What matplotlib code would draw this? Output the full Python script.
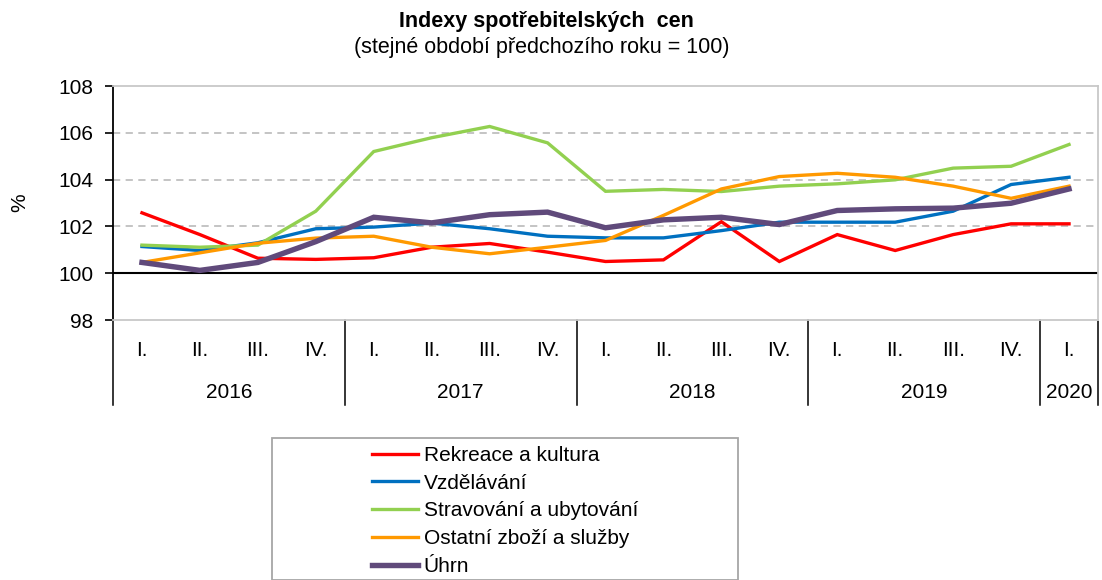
import matplotlib
matplotlib.use("Agg")
import matplotlib.pyplot as plt
import matplotlib.transforms as mtransforms
from matplotlib.patches import Rectangle

plt.rcParams['font.family'] = ['Liberation Sans', 'DejaVu Sans']

# data
quarters = ["I.", "II.", "III.", "IV.", "I.", "II.", "III.", "IV.", "I.", "II.", "III.", "IV.",
            "I.", "II.", "III.", "IV.", "I."]
years = ["2016", "2017", "2018", "2019", "2020"]
year_sizes = [4, 4, 4, 4, 1]

rekreace = [102.58, 101.65, 100.64, 100.59, 100.66, 101.11, 101.27, 100.9, 100.5, 100.57,
            102.2, 100.5, 101.65, 100.97, 101.65, 102.11, 102.11]
vzdelavani = [101.14, 100.97, 101.3, 101.9, 101.97, 102.14, 101.9, 101.58, 101.51, 101.51,
              101.82, 102.18, 102.18, 102.18, 102.65, 103.79, 104.1]
stravovani = [101.2, 101.11, 101.2, 102.65, 105.2, 105.79, 106.27, 105.57, 103.5, 103.58,
              103.49, 103.72, 103.82, 103.99, 104.49, 104.57, 105.5]
ostatni = [100.46, 100.87, 101.28, 101.5, 101.58, 101.11, 100.83, 101.11, 101.4, 102.47,
           103.6, 104.13, 104.27, 104.1, 103.72, 103.2, 103.72]
uhrn = [100.46, 100.12, 100.46, 101.35, 102.39, 102.15, 102.5, 102.61, 101.94, 102.28,
        102.39, 102.08, 102.68, 102.75, 102.78, 102.99, 103.6]

series = [
    ("Rekreace a kultura", rekreace, "#FF0000", 2.4),
    ("Vzdělávání", vzdelavani, "#0070C0", 2.4),
    ("Stravování a ubytování", stravovani, "#92D050", 2.4),
    ("Ostatní zboží a služby", ostatni, "#FF9900", 2.4),
    ("Úhrn", uhrn, "#604A7B", 3.9),
]

W, H = 1102, 580
fs = 15
fig = plt.figure(figsize=(W / 100, H / 100), dpi=100)
ax = fig.add_axes([113 / W, 1 - 320 / H, 985 / W, 234 / H])

x = list(range(len(quarters)))
for name, vals, col, lw in series:
    ax.plot(x, vals, color=col, lw=lw, label=name, solid_joinstyle='miter')

ax.set_xlim(-0.5, len(quarters) - 0.5)
ax.set_ylim(98, 108)
ax.set_yticks([98, 100, 102, 104, 106, 108])
ax.tick_params(axis='y', labelsize=fs, direction='out', length=6, width=1.2, pad=8)
ax.set_xticks([])
for v in [102, 104, 106]:
    ax.axhline(v, color='#BFBFBF', lw=1.3, ls=(0, (4, 3)), zorder=0)
ax.axhline(100, color='black', lw=1.5, zorder=1)

for s in ['top', 'right', 'bottom']:
    ax.spines[s].set_color('#C8C8C8')
    ax.spines[s].set_linewidth(1.3)
ax.spines['left'].set_linewidth(1.3)
ax.set_ylabel("%", fontsize=fs, labelpad=21)

# category axis below the plot
trans = mtransforms.blended_transform_factory(ax.transData, ax.transAxes)
low = -(405 - 320) / 234
for i, q in enumerate(quarters):
    ax.text(i, -(351 - 320) / 234, q, transform=trans, ha='center', va='center', fontsize=fs)
start = 0
bounds = [-0.5]
for yr, n in zip(years, year_sizes):
    ax.text(start + (n - 1) / 2, -(392 - 320) / 234, yr, transform=trans,
            ha='center', va='center', fontsize=fs)
    start += n
    bounds.append(start - 0.5)
for b in bounds:
    ax.plot([b, b], [0, low], transform=trans, color='black', lw=1.1, clip_on=False)

# titles
fig.text(0.496, 1 - 22 / H, "Indexy spotřebitelských  cen", ha='center', va='center',
         fontsize=15.5, fontweight='bold')
fig.text(0.492, 1 - 48 / H, "(stejné období předchozího roku = 100)", ha='center',
         va='center', fontsize=15.5)

# legend box and legend
fig.patches.append(Rectangle((272 / W, 0), (738 - 272) / W, 1 - 438 / H,
                             transform=fig.transFigure, fill=False,
                             edgecolor='#A6A6A6', lw=1.3))
fig.legend(loc='upper center', bbox_to_anchor=(505 / W, 1 - 446 / H), frameon=False,
           fontsize=fs, handlelength=2.2, handletextpad=0.28, labelspacing=0.42,
           borderpad=0, borderaxespad=0)

fig.savefig("out.png", dpi=100)
